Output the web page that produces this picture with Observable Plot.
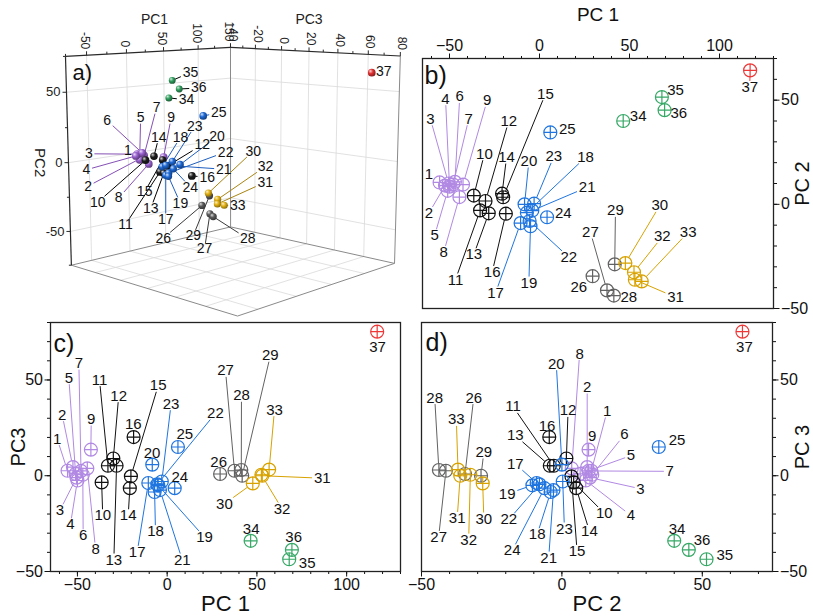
<!DOCTYPE html>
<html>
<head>
<meta charset="utf-8">
<script src="https://cdn.jsdelivr.net/npm/d3@7"></script>
<script src="https://cdn.jsdelivr.net/npm/@observablehq/plot@0.6"></script>
<style>
html, body { margin: 0; padding: 0; background: #fff; }
#wrap { position: relative; width: 813px; height: 616px; overflow: hidden; background: #fff; }
#wrap svg { position: absolute; }
</style>
</head>
<body>
<div id="wrap"></div>
<script>
// ---- PCA scores of the 37 samples ----
const sampleIds = [1, 2, 3, 4, 5, 6, 7, 8, 9, 10, 11, 12, 13, 14, 15, 16, 17, 18, 19,
  20, 21, 22, 23, 24, 25, 26, 27, 28, 29, 30, 31, 32, 33, 34, 35, 36, 37];
const groupOf = [
  "purple", "purple", "purple", "purple", "purple", "purple", "purple", "purple", "purple",
  "black", "black", "black", "black", "black", "black", "black",
  "blue", "blue", "blue", "blue", "blue", "blue", "blue", "blue", "blue",
  "gray", "gray", "gray", "gray",
  "gold", "gold", "gold", "gold",
  "green", "green", "green",
  "red"];
const pc1 = [-55.5, -52.5, -50.5, -50, -51, -47, -48, -44.5, -42.5,
  -36.5, -33, -30, -28.2, -20.8, -20.2, -18.7,
  -10.5, -7, -5, -8.3, -4, -5.5, -3, 4.2, 6,
  29.5, 37.5, 41.3, 41.8,
  47.7, 53, 52.5, 56.8,
  46.5, 68, 69.5,
  117];
const pc2 = [10.5, 9, 10, 8.5, 6.5, 10.8, 9.5, 3.5, 9.5,
  4.2, -2.9, 1.6, -4.3, 5.1, 3.4, -4.5,
  -9, -4, -10.5, 0, -3, -8, 0.3, -6.2, 34.5,
  -34.5, -41.3, -43.8, -28.8,
  -28.2, -36.2, -32.6, -37,
  40, 51.5, 45.2,
  64.3];
const pc3 = [2.6, 4.5, -1, -2.5, 1, 0.5, 2.5, 3.8, 13.6,
  -3.5, 5.2, 9, 5.2, -6.5, -0.3, 20.2,
  -3.8, -8.5, -5, 5.8, -7.5, -4.5, -3, -6.5, 15,
  0.9, 2.6, 3, 0,
  -4, 0, 0.5, 3.2,
  -34, -43.6, -38.7,
  75.2];

// ---- axis ticks ----
const ticksPC1 = [-50, 0, 50, 100, 150];
const ticksPC2 = [-50, 0, 50];
const ticksPC3 = [-40, -20, 0, 20, 40, 60, 80];

// ---- where each sample's number sits (in the panel's data units) ----
const labelAtB = [[-61.5, 14.3], [-61.5, -4.3], [-60.6, 41], [-52.2, 50.6], [-58.3, -15], [-44.3, 51.7],
  [-39.3, 41], [-53.2, -23], [-29.1, 49.8], [-30.6, 24.2], [-46.7, -36.2], [-17.1, 39.9], [-36.5, -24.1],
  [-18.3, 22.6], [3.3, 53], [-26.3, -32.6], [-24.4, -42.5], [25.6, 22.6], [-5.9, -37.7], [-5.9, 20.7],
  [26.5, 8.2], [16.3, -25.4], [7.9, 22.9], [13.2, -4.1], [15.4, 36.2], [21.8, -39.8], [28.3, -13.4],
  [49.6, -44.6], [42.2, -3], [66.8, -0.6], [75.6, -44.6], [68.2, -15.5], [82.6, -13.4], [54.8, 42.1],
  [75.6, 55], [77.4, 43.7], [116.8, 56.2]];
const labelAtC = [[-61.3, 19.3], [-58.5, 31.8], [-59.8, -18.2], [-53.9, -25.5], [-54.8, 51.1], [-46.8, -31.2],
  [-49.2, 58.7], [-39.9, -38.2], [-42.3, 29.5], [-35.9, -20.8], [-37.7, 50.1], [-27, 41.7], [-29.7, -43.9],
  [-21.7, -20.8], [-5, 47.1], [-18.9, 26.7], [-16.7, -39.9], [-6.5, -29.1], [20.8, -32.1], [-8.4, 12],
  [8.4, -43.9], [26.9, 32.6], [2.2, 37.5], [7, -0.8], [9.8, 21.5], [28.7, 7], [32.5, 54.9], [41.4, 41.9],
  [57.5, 62.8], [31.9, -14.7], [86.4, -1.3], [64, -17.3], [59.8, 34.4], [46.8, -27.7], [78, -45.5],
  [70.5, -32.1], [117.2, 67.1]];
const labelAtD = [[16.1, 33.7], [9, 46.2], [28, -6.8], [24.6, -20.8], [24.6, 10.5], [22.3, 21.5], [38.4, 2.3],
  [6.3, 63.7], [10.8, 20.5], [15.1, -19.6], [-17.4, 36.1], [2.2, 34], [-16.6, 21], [9.8, -29], [5.4, -39.4],
  [-5.3, 25.7], [-16.6, 6.2], [-8.8, -30.7], [-19.5, -9.5], [-2, 58.4], [-4.7, -42.9], [-18.9, -22.9],
  [0.9, -27.7], [-17.7, -39.1], [41, 18.4], [-31.4, 40.7], [-43.9, -32.1], [-45.3, 40.7], [-27.8, 12.3],
  [-27.8, -22.5], [-37.3, -22.2], [-33.2, -33.5], [-37.6, 29.3], [41, -27.7], [58, -41.3], [49.9, -33.5],
  [65, 67.1]];
// in the 3D view the numbers are placed by a pixel offset from their sphere
const labelOffsetA = [[-10, -4], [-55, 29], [-48.5, -0.4], [-49.3, 13.8], [1, -42], [-35, -32.4], [12.5, -47.6],
  [-30, 34], [7.6, -39.4], [-47.7, 42], [-34.5, 52.6], [34.8, -21.2], [-13, 35], [4.8, -19], [-18, 32],
  [15.3, 1.2], [0, 44], [18.3, -29.6], [12, 27], [37, -28], [58, 4], [57, -21], [22.4, -35.4],
  [17, 18.4], [15.6, -3], [-38.7, 32.8], [-5.4, 35], [34.6, 22.2], [-16.3, 40], [44.8, -42], [48, -21.7],
  [47.8, -33], [13.6, 0.3], [17.6, 2], [18.3, -8], [19.6, -1], [12, -1]];

// ---- colours ----
const markColor = {purple: "#b189e3", black: "#111111", blue: "#1f75df", gray: "#626262",
  gold: "#d8a200", green: "#36a866", red: "#ee3838"};
const sphereColor = {purple: "#9a62d0", black: "#1c1c1c", blue: "#1d68d4", gray: "#5a5a5a",
  gold: "#e2b010", green: "#2f9d5c", red: "#e03030"};
const lineColorA = {purple: "#8550b5", black: "#000000", blue: "#1f5fbf", gray: "#3a3a3a",
  gold: "#a88410", green: "#000000", red: "#000000"};

const FONT = "'Liberation Sans', Arial, Helvetica, sans-serif";
const wrap = document.getElementById("wrap");

const points = sampleIds.map((id, i) => ({id, g: groupOf[i], pc1: pc1[i], pc2: pc2[i], pc3: pc3[i]}));

// shaded spheres for the 3D view
const defs = d3.select(wrap).append("svg").attr("width", 0).attr("height", 0).append("defs");
for (const [g, c] of Object.entries(sphereColor)) {
  const grad = defs.append("radialGradient").attr("id", `sph-${g}`)
    .attr("cx", "0.4").attr("cy", "0.38").attr("r", "0.68").attr("fx", "0.32").attr("fy", "0.28");
  grad.append("stop").attr("offset", "0").attr("stop-color", d3.interpolateRgb(c, "#ffffff")(0.8));
  grad.append("stop").attr("offset", "0.45").attr("stop-color", c);
  grad.append("stop").attr("offset", "1").attr("stop-color", d3.interpolateRgb(c, "#000000")(0.45));
}

// circle with a cross inside
const circlePlus = {
  draw(ctx, size) {
    const r = Math.sqrt(size / Math.PI);
    ctx.moveTo(r, 0);
    ctx.arc(0, 0, r, 0, 2 * Math.PI);
    ctx.moveTo(-r, 0); ctx.lineTo(r, 0);
    ctx.moveTo(0, -r); ctx.lineTo(0, r);
  }
};

// leader from a point (skipping radius r0) to the edge of its number's box
function leader(P, A, text, fs, r0) {
  const vx = P[0] - A[0], vy = P[1] - A[1];
  const len = Math.hypot(vx, vy);
  if (len < 1e-6) return null;
  const hw = text.length * fs * 0.29 + 1.5, hh = fs * 0.42;
  const s = Math.min(hw / Math.max(Math.abs(vx), 1e-6), hh / Math.max(Math.abs(vy), 1e-6));
  const t1 = 1 - r0 / len;
  if (t1 - s < 3 / len) return null;
  return {x1: A[0] + vx * t1, y1: A[1] + vy * t1, x2: A[0] + vx * s, y2: A[1] + vy * s};
}

const minusFmt = d => (d < 0 ? "\u2212" + Math.abs(d) : String(d));

function place(svg, left, top) {
  svg.style.left = left + "px";
  svg.style.top = top + "px";
  wrap.appendChild(svg);
}

// ---------- 2D score plots ----------
function flatPanel(cfg) {
  const {W, H, m, xKey, yKey, xDomain, yDomain, labelAt, xAnchor, yAnchor,
         xMajor, xMinor, yMajor, yMinor, extra} = cfg;
  const sx = Plot.scale({x: {domain: xDomain, range: [m.left, W - m.right]}});
  const sy = Plot.scale({y: {domain: yDomain, range: [H - m.bottom, m.top]}});
  const rows = points.map((p, i) => ({...p, px: p[xKey], py: p[yKey], lx: labelAt[i][0], ly: labelAt[i][1]}));
  const links = [];
  for (const r of rows) {
    const P = [sx.apply(r.px), sy.apply(r.py)];
    const A = [sx.apply(r.lx), sy.apply(r.ly)];
    const s = leader(P, A, String(r.id), 15, 6.5);
    if (s) links.push({g: r.g, x1: sx.invert(s.x1), y1: sy.invert(s.y1), x2: sx.invert(s.x2), y2: sy.invert(s.y2)});
  }
  return Plot.plot({
    width: W, height: H,
    marginTop: m.top, marginRight: m.right, marginBottom: m.bottom, marginLeft: m.left,
    x: {domain: xDomain, label: null},
    y: {domain: yDomain, label: null},
    color: {type: "identity"},
    style: {fontFamily: FONT, fontSize: "16px", color: "#111", background: "transparent", overflow: "visible"},
    marks: [
      Plot.axisX({anchor: xAnchor, ticks: xMinor, tickSize: 3, tickFormat: () => "", label: null}),
      Plot.axisX({anchor: xAnchor, ticks: xMajor, tickSize: 5.5, tickPadding: 2, tickFormat: minusFmt, label: null}),
      Plot.axisY({anchor: yAnchor, ticks: yMinor, tickSize: 3, tickFormat: () => "", label: null}),
      Plot.axisY({anchor: yAnchor, ticks: yMajor, tickSize: 5.5, tickPadding: 2, tickFormat: minusFmt, label: null}),
      Plot.frame({stroke: "#222", strokeWidth: 1.3}),
      Plot.link(links, {x1: "x1", y1: "y1", x2: "x2", y2: "y2", stroke: d => markColor[d.g], strokeWidth: 1}),
      Plot.dot(rows, {x: "px", y: "py", r: 6.5, symbol: circlePlus, fill: "none",
        stroke: d => markColor[d.g], strokeWidth: 1.2}),
      Plot.text(rows, {x: "lx", y: "ly", text: d => String(d.id), fontSize: 15, fill: "#111"}),
      ...extra
    ]
  });
}

const title = (s, o) => Plot.text([s], {text: d => d, lineAnchor: "middle", textAnchor: "middle", fill: "#111", ...o});

// b) PC1 vs PC2
place(flatPanel({
  W: 403, H: 318, m: {top: 58, right: 40, bottom: 10, left: 12},
  xKey: "pc1", yKey: "pc2", xDomain: [-65, 130], yDomain: [-50, 70], labelAt: labelAtB,
  xAnchor: "top", yAnchor: "right",
  xMajor: [-50, 0, 50, 100], xMinor: d3.range(-60, 131, 10),
  yMajor: [-50, 0, 50], yMinor: d3.range(-50, 71, 10),
  extra: [
    title("PC 1", {frameAnchor: "top", dy: -44, fontSize: 19}),
    title("PC 2", {frameAnchor: "right", dx: 29, rotate: -90, fontSize: 20}),
    title("b)", {frameAnchor: "top-left", textAnchor: "start", dx: 2, dy: 17, fontSize: 25})
  ]
}), 410, 0);

// c) PC1 vs PC3
place(flatPanel({
  W: 410, H: 300, m: {top: 6, right: 10, bottom: 45, left: 50},
  xKey: "pc1", yKey: "pc3", xDomain: [-65, 130], yDomain: [-50, 80], labelAt: labelAtC,
  xAnchor: "bottom", yAnchor: "left",
  xMajor: [-50, 0, 50, 100], xMinor: d3.range(-60, 131, 10),
  yMajor: [-50, 0, 50], yMinor: d3.range(-50, 81, 10),
  extra: [
    title("PC 1", {frameAnchor: "bottom", dy: 32, fontSize: 22}),
    title("PC3", {frameAnchor: "left", dx: -32, rotate: -90, fontSize: 20}),
    title("c)", {frameAnchor: "top-left", textAnchor: "start", dx: 3, dy: 21, fontSize: 25})
  ]
}), 0, 316);

// d) PC2 vs PC3
place(flatPanel({
  W: 408, H: 300, m: {top: 6, right: 41, bottom: 45, left: 16},
  xKey: "pc2", yKey: "pc3", xDomain: [-50, 75], yDomain: [-50, 80], labelAt: labelAtD,
  xAnchor: "bottom", yAnchor: "right",
  xMajor: [-50, 0, 50], xMinor: d3.range(-50, 76, 10),
  yMajor: [-50, 0, 50], yMinor: d3.range(-50, 81, 10),
  extra: [
    title("PC 2", {frameAnchor: "bottom", dy: 32, fontSize: 22}),
    title("PC 3", {frameAnchor: "right", dx: 30, rotate: -90, fontSize: 20}),
    title("d)", {frameAnchor: "top-left", textAnchor: "start", dx: 4, dy: 20, fontSize: 25})
  ]
}), 405, 316);

// ---------- a) 3D view (perspective camera) ----------
const box = {pc1: [-75, 150], pc2: [-75, 75], pc3: [-40, 80]};
const cam = {azimuth: 43.8, elevation: 9.6, distance: 8.5, focal: 988.6, cx: 233, cy: 161.6, heightRatio: 0.907};

function project([v1, v2, v3]) {
  const half = k => (box[k][1] - box[k][0]) / 2, mid = k => (box[k][1] + box[k][0]) / 2;
  const X = (v1 - mid("pc1")) / half("pc1");
  const Z = (v3 - mid("pc3")) / half("pc3");
  const Y = (v2 - mid("pc2")) / half("pc2") * cam.heightRatio;
  const a = cam.azimuth * Math.PI / 180, b = cam.elevation * Math.PI / 180;
  const xc = X * Math.sin(a) + Z * Math.cos(a);
  const pf = X * Math.cos(a) - Z * Math.sin(a);
  const zc = cam.distance + Math.cos(b) * pf - Math.sin(b) * Y;
  const yc = Math.sin(b) * pf + Math.cos(b) * Y;
  return [cam.cx + cam.focal * xc / zc, cam.cy - cam.focal * yc / zc, zc];
}
const seg = (p, q) => { const [x1, y1] = project(p), [x2, y2] = project(q); return {x1, y1, x2, y2}; };

const [l1, h1] = box.pc1, [l2, h2] = box.pc2, [l3, h3] = box.pc3;
const in1 = ticksPC1.filter(v => v > l1 && v < h1);
const in3 = ticksPC3.filter(v => v > l3 && v < h3);
const gridA = [
  ...in1.map(v => seg([v, l2, l3], [v, l2, h3])),
  ...in3.map(w => seg([l1, l2, w], [h1, l2, w])),
  ...in1.map(v => seg([v, l2, l3], [v, h2, l3])),
  ...ticksPC2.map(u => seg([l1, u, l3], [h1, u, l3])),
  ...in3.map(w => seg([h1, l2, w], [h1, h2, w])),
  ...ticksPC2.map(u => seg([h1, u, l3], [h1, u, h3]))
];
const edgesLight = [
  seg([h1, l2, l3], [h1, h2, l3]), seg([h1, l2, h3], [h1, h2, h3]),
  seg([l1, l2, l3], [h1, l2, l3]), seg([h1, l2, l3], [h1, l2, h3]),
  seg([l1, l2, l3], [l1, l2, h3]), seg([l1, l2, h3], [h1, l2, h3])
];
const edgesDark = [
  seg([l1, l2, l3], [l1, h2, l3]), seg([l1, h2, l3], [h1, h2, l3]), seg([h1, h2, l3], [h1, h2, h3])
];
const upTick = (p, len) => { const [x, y] = project(p); return {x1: x, y1: y, x2: x, y2: y - len}; };
const leftTick = (p, len) => { const [x, y] = project(p); return {x1: x, y1: y, x2: x - len, y2: y}; };
const ticksA = [
  ...d3.range(l1, h1 + 1, 25).map(v => upTick([v, h2, l3], ticksPC1.includes(v) ? 4 : 2.5)),
  ...d3.range(l3, h3 + 1, 10).map(w => upTick([h1, h2, w], ticksPC3.includes(w) ? 4 : 2.5)),
  ...d3.range(l2, h2 + 1, 25).map(u => leftTick([l1, u, l3], ticksPC2.includes(u) ? 4 : 2.5))
];
const lab1 = ticksPC1.map(v => { const [x, y] = project([v, h2, l3]); return {x, y: y - 6, t: String(v)}; });
const lab3 = ticksPC3.map(w => { const [x, y] = project([h1, h2, w]); return {x, y: y - 6, t: String(w)}; });
const lab2 = ticksPC2.map(u => { const [x, y] = project([l1, u, l3]); return {x: x - 6, y, t: String(u)}; });
const t1 = project([(l1 + h1) / 2, h2, l3]), t3 = project([h1, h2, (l3 + h3) / 2]), t2 = project([l1, 0, l3]);
const corner = project([l1, h2, l3]);

const rowsA = points.map((p, i) => {
  const [x, y, zc] = project([p.pc1, p.pc2, p.pc3]);
  return {...p, x, y, zc, rad: 3.7 * 8.6 / zc, lx: x + labelOffsetA[i][0], ly: y + labelOffsetA[i][1]};
}).sort((a, b) => b.zc - a.zc);
const linksA = [];
for (const r of rowsA) {
  const s = leader([r.x, r.y], [r.lx, r.ly], String(r.id), 14, 0);
  if (s) linksA.push({g: r.g, ...s});
}

const seg4 = {x1: "x1", y1: "y1", x2: "x2", y2: "y2"};
place(Plot.plot({
  width: 410, height: 316, margin: 0,
  x: {domain: [0, 410], range: [0, 410], axis: null},
  y: {domain: [0, 316], range: [0, 316], axis: null},
  color: {type: "identity"},
  r: {type: "identity"},
  style: {fontFamily: FONT, fontSize: "13px", color: "#111", background: "transparent", overflow: "visible"},
  marks: [
    Plot.link(gridA, {...seg4, stroke: "#d9d9d9", strokeWidth: 0.8}),
    Plot.link(edgesLight, {...seg4, stroke: "#8a8a8a", strokeWidth: 1}),
    Plot.link(edgesDark, {...seg4, stroke: "#2a2a2a", strokeWidth: 1.2}),
    Plot.link(ticksA, {...seg4, stroke: "#2a2a2a", strokeWidth: 1}),
    Plot.text(lab1, {x: "x", y: "y", text: "t", rotate: 90, textAnchor: "end", lineAnchor: "middle", dx: -1.5, fontSize: 12, fill: "#222"}),
    Plot.text(lab3, {x: "x", y: "y", text: "t", rotate: 90, textAnchor: "end", lineAnchor: "middle", dx: 2, fontSize: 12, fill: "#222"}),
    Plot.text(lab2, {x: "x", y: "y", text: "t", textAnchor: "end", lineAnchor: "middle", fontSize: 13, fill: "#222"}),
    Plot.text(["PC1"], {x: t1[0], y: t1[1], text: d => d, dy: -32, fontSize: 14, fill: "#222"}),
    Plot.text(["PC3"], {x: t3[0], y: t3[1], text: d => d, dy: -32, fontSize: 14, fill: "#222"}),
    Plot.text(["PC2"], {x: t2[0], y: t2[1], text: d => d, dx: -29, rotate: 90, fontSize: 15, fill: "#222"}),
    Plot.text(["a)"], {x: corner[0], y: corner[1], text: d => d, dx: 7, dy: 17, textAnchor: "start", lineAnchor: "middle", fontSize: 22, fill: "#111"}),
    Plot.link(linksA, {...seg4, stroke: d => lineColorA[d.g], strokeWidth: 1}),
    Plot.dot(rowsA, {x: "x", y: "y", r: "rad", fill: d => `url(#sph-${d.g})`, stroke: "none"}),
    Plot.text(rowsA, {x: "lx", y: "ly", text: d => String(d.id), fontSize: 14, fill: "#111"})
  ]
}), 0, 0);
</script>
</body>
</html>
